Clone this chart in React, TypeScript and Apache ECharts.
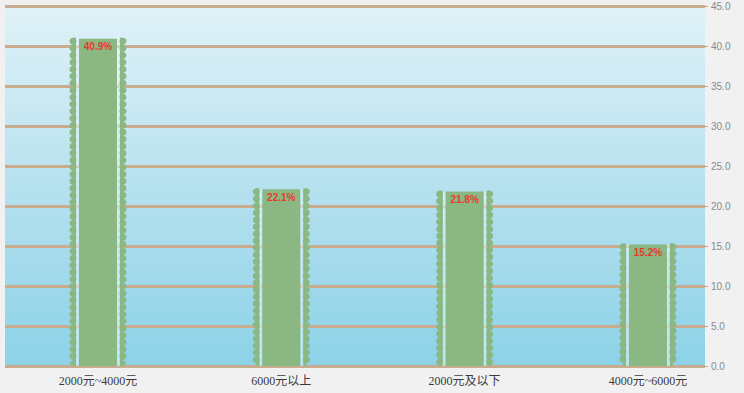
import React, { useEffect, useRef } from "react";
import * as echarts from "echarts";

const categories = ["2000元~4000元", "6000元以上", "2000元及以下", "4000元~6000元"];
const values = [40.9, 22.1, 21.8, 15.2];
const yMin = 0;
const yMax = 45;
const yInterval = 5;

const GREEN = "#8bb882";

export default function App() {
  const ref = useRef<HTMLDivElement>(null);
  useEffect(() => {
    if (!ref.current) return;
    const chart = echarts.init(ref.current, undefined, { renderer: "svg" });
    const option: any = {
      animation: false,
      backgroundColor: "#f1f1f1",
      grid: [
        {
          left: 5,
          right: 39,
          top: 6,
          bottom: 27,
          show: true,
          borderWidth: 0,
          backgroundColor: {
            type: "linear",
            x: 0,
            y: 0,
            x2: 0,
            y2: 1,
            colorStops: [
              { offset: 0, color: "#e0f2f8" },
              { offset: 0.5, color: "#b6e1ef" },
              { offset: 1, color: "#8cd2e7" },
            ],
          },
        },
        { left: 6.3, right: 4.4, top: 6, bottom: 27 },
      ],
      xAxis: [
        {
          type: "category",
          gridIndex: 0,
          data: categories,
          axisLine: { show: false },
          axisTick: { show: false },
          axisLabel: { show: false },
        },
        {
          type: "category",
          gridIndex: 1,
          data: categories,
          axisLine: { show: false },
          axisTick: { show: false },
          axisLabel: {
            color: "#3a3a3a",
            fontSize: 12,
            fontFamily: "'Liberation Serif', 'Noto Sans CJK SC', serif",
            margin: 9,
          },
        },
      ],
      yAxis: [
        {
          type: "value",
          gridIndex: 0,
          position: "right",
          min: yMin,
          max: yMax,
          interval: yInterval,
          axisLine: { show: false },
          axisTick: { show: true, length: 3, lineStyle: { color: "#c4a88c", width: 1 } },
          axisLabel: {
            color: "#8a8a8a",
            fontSize: 10,
            margin: 6,
            fontFamily: "Arial, 'Liberation Sans', sans-serif",
            formatter: (v: number) => v.toFixed(1),
          },
          splitLine: { show: true, lineStyle: { color: "#c9ab8e", width: 3 } },
        },
        {
          type: "value",
          gridIndex: 1,
          min: yMin,
          max: yMax,
          interval: yInterval,
          show: false,
          splitLine: { show: false },
        },
      ],
      series: [
        {
          type: "custom",
          xAxisIndex: 1,
          yAxisIndex: 1,
          data: values.map((v, i) => [i, v]),
          renderItem: (params: any, api: any) => {
            const i = api.value(0);
            const v = api.value(1);
            const top = api.coord([i, v]);
            const base = api.coord([i, 0]);
            const cx = top[0];
            const ty = top[1];
            const by = base[1];
            const h = by - ty;
            const core = 19;
            const gap = 3;
            const strip = 3;
            const r = 3.5;
            const children: any[] = [];
            // gaps
            children.push({
              type: "rect",
              shape: { x: cx - core - gap, y: ty, width: gap, height: h },
              style: { fill: "rgba(225,245,250,0.55)" },
            });
            children.push({
              type: "rect",
              shape: { x: cx + core, y: ty, width: gap, height: h },
              style: { fill: "rgba(225,245,250,0.55)" },
            });
            // core
            children.push({
              type: "rect",
              shape: { x: cx - core, y: ty, width: core * 2, height: h },
              style: { fill: GREEN },
            });
            // strips
            const lx = cx - core - gap - strip;
            const rx = cx + core + gap;
            children.push({
              type: "rect",
              shape: { x: lx, y: ty - 1, width: strip, height: h + 1 },
              style: { fill: GREEN },
            });
            children.push({
              type: "rect",
              shape: { x: rx, y: ty - 1, width: strip, height: h + 1 },
              style: { fill: GREEN },
            });
            for (let y = ty + r - 1; y < by - 1; y += 7) {
              const rr = Math.min(r, (by - y));
              children.push({
                type: "circle",
                shape: { cx: lx, cy: y, r: rr },
                style: { fill: GREEN },
              });
              children.push({
                type: "circle",
                shape: { cx: rx + strip, cy: y, r: rr },
                style: { fill: GREEN },
              });
            }
            children.push({
              type: "text",
              style: {
                text: v.toFixed(1) + "%",
                x: cx,
                y: ty + 8,
                align: "center",
                verticalAlign: "middle",
                fill: "#e63a2e",
                font: "bold 10px Arial, 'Liberation Sans', sans-serif",
              },
            });
            return { type: "group", children };
          },
        },
      ],
    };
    chart.setOption(option);
    return () => chart.dispose();
  }, []);
  return (
    <div
      ref={ref}
      style={{ position: "fixed", left: 0, top: 0, width: 744, height: 393 }}
    />
  );
}
